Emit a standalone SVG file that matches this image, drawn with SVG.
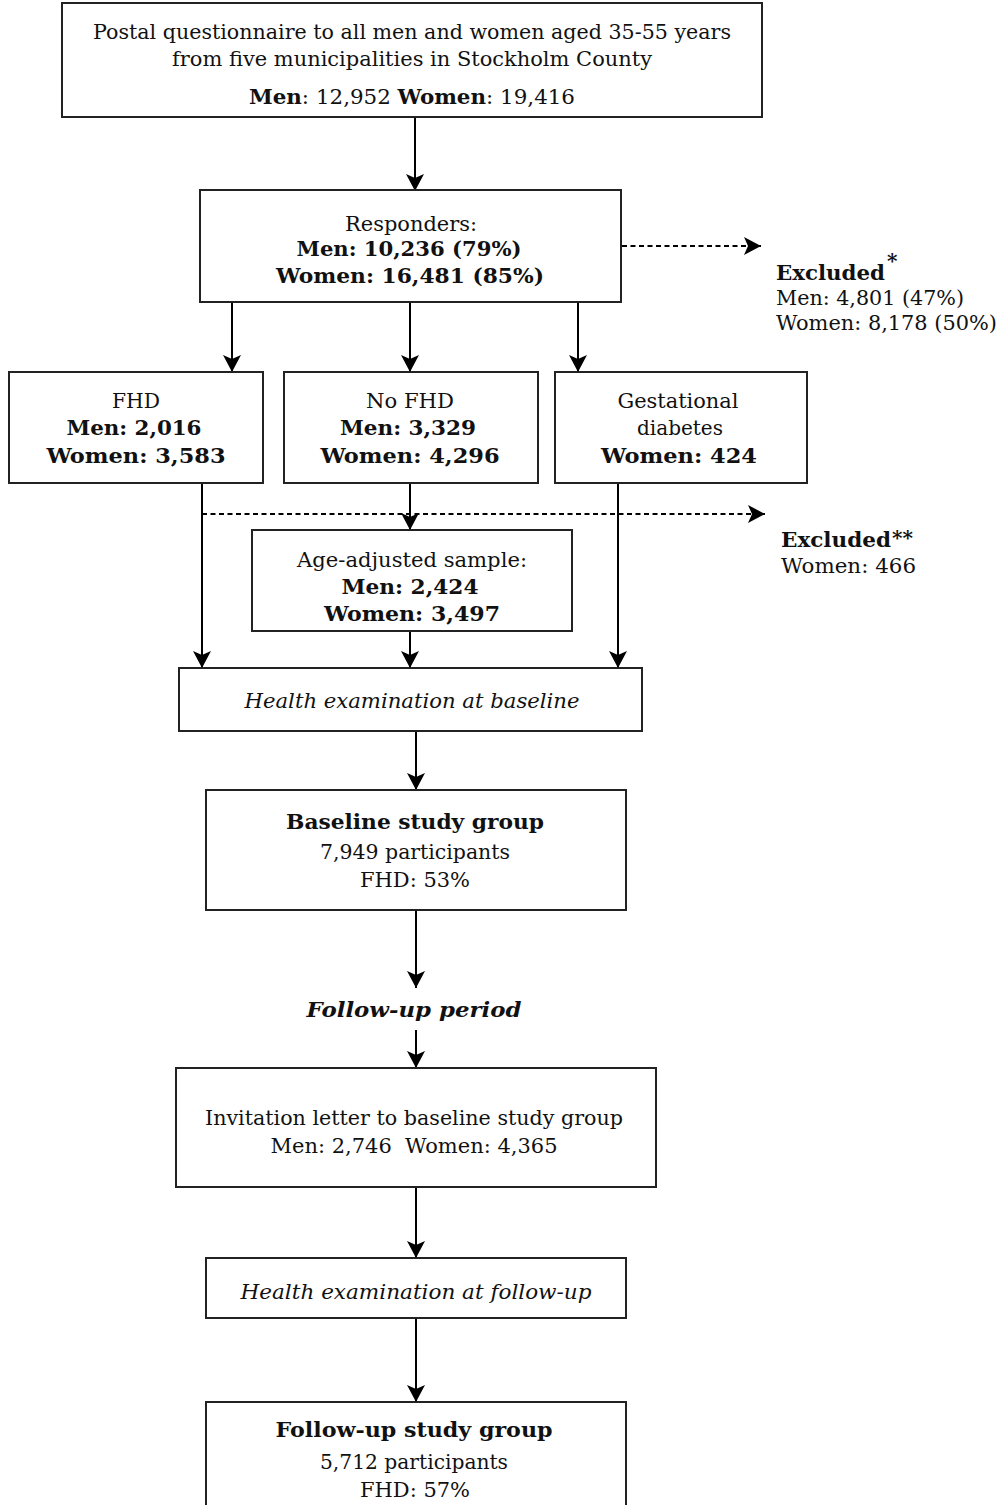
<svg xmlns="http://www.w3.org/2000/svg" width="1002" height="1505" viewBox="0 0 1002 1505">
<defs>
<marker id="ah" viewBox="0 0 17 18" refX="17" refY="9" markerWidth="17" markerHeight="18" markerUnits="userSpaceOnUse" orient="auto">
<path d="M0,0 L17,9 L0,18 L4,9 z" fill="#000"/>
</marker>
<style>
.box{fill:#fff;stroke:#222;stroke-width:2}
.t{font-family:"DejaVu Serif",serif;font-size:20px;fill:#111;text-anchor:middle}
.l{font-family:"DejaVu Serif",serif;font-size:20px;fill:#111}
.g{font-family:"DejaVu Serif",serif;font-size:20px;fill:#111;text-anchor:middle}
.b{font-weight:bold}
.i{font-style:italic}
.c{stroke:#000;stroke-width:2;fill:none;marker-end:url(#ah)}
.d{stroke-dasharray:5,3.5}
</style>
</defs>
<rect width="1002" height="1505" fill="#fff"/>
<g id="connectors">
<line class="c" x1="415" y1="117" x2="415" y2="191"/>
<line class="c d" x1="622" y1="246" x2="761" y2="246"/>
<line class="c" x1="232" y1="302" x2="232" y2="372"/>
<line class="c" x1="410" y1="302" x2="410" y2="372"/>
<line class="c" x1="578" y1="302" x2="578" y2="372"/>
<line class="c d" x1="202" y1="514" x2="765" y2="514"/>
<line class="c" x1="202" y1="483" x2="202" y2="668"/>
<line class="c" x1="410" y1="483" x2="410" y2="530"/>
<line class="c" x1="410" y1="631" x2="410" y2="668"/>
<line class="c" x1="618" y1="483" x2="618" y2="668"/>
<line class="c" x1="416" y1="731" x2="416" y2="790"/>
<line class="c" x1="416" y1="910" x2="416" y2="988"/>
<line class="c" x1="416" y1="1030" x2="416" y2="1068"/>
<line class="c" x1="416" y1="1187" x2="416" y2="1258"/>
<line class="c" x1="416" y1="1318" x2="416" y2="1402"/>
</g>
<g id="questionnaire">
<rect class="box" x="62" y="3" width="700" height="114"/>
<text class="t" x="412" y="39" textLength="638" lengthAdjust="spacingAndGlyphs">Postal questionnaire to all men and women aged 35-55 years</text>
<text class="t" x="412" y="66" textLength="480" lengthAdjust="spacingAndGlyphs">from five municipalities in Stockholm County</text>
<text class="t" x="412" y="104" textLength="326" lengthAdjust="spacingAndGlyphs"><tspan class="b">Men</tspan>: 12,952 <tspan class="b">Women</tspan>: 19,416</text>
</g>
<g id="responders">
<rect class="box" x="200" y="190" width="421" height="112"/>
<text class="t" x="411" y="231" textLength="132" lengthAdjust="spacingAndGlyphs">Responders:</text>
<text class="t b" x="409" y="256" textLength="225" lengthAdjust="spacingAndGlyphs">Men: 10,236 (79%)</text>
<text class="t b" x="410" y="283" textLength="268" lengthAdjust="spacingAndGlyphs">Women: 16,481 (85%)</text>
</g>
<g id="excluded1">
<text class="l b" x="776" y="280" textLength="109" lengthAdjust="spacingAndGlyphs">Excluded</text>
<text class="l b" x="887" y="268" font-size="12">*</text>
<text class="l" x="776" y="305" textLength="188" lengthAdjust="spacingAndGlyphs">Men: 4,801 (47%)</text>
<text class="l" x="776" y="330" textLength="221" lengthAdjust="spacingAndGlyphs">Women: 8,178 (50%)</text>
</g>
<g id="fhd">
<rect class="box" x="9" y="372" width="254" height="111"/>
<text class="t" x="136" y="408" textLength="48" lengthAdjust="spacingAndGlyphs">FHD</text>
<text class="t b" x="134" y="435" textLength="135" lengthAdjust="spacingAndGlyphs">Men: 2,016</text>
<text class="t b" x="136" y="463" textLength="179" lengthAdjust="spacingAndGlyphs">Women: 3,583</text>
</g>
<g id="nofhd">
<rect class="box" x="284" y="372" width="254" height="111"/>
<text class="t" x="410" y="408" textLength="88" lengthAdjust="spacingAndGlyphs">No FHD</text>
<text class="t b" x="408" y="435" textLength="136" lengthAdjust="spacingAndGlyphs">Men: 3,329</text>
<text class="t b" x="410" y="463" textLength="179" lengthAdjust="spacingAndGlyphs">Women: 4,296</text>
</g>
<g id="gestational">
<rect class="box" x="555" y="372" width="252" height="111"/>
<text class="t" x="678" y="408" textLength="121" lengthAdjust="spacingAndGlyphs">Gestational</text>
<text class="t" x="680" y="435" textLength="86" lengthAdjust="spacingAndGlyphs">diabetes</text>
<text class="t b" x="679" y="463" textLength="156" lengthAdjust="spacingAndGlyphs">Women: 424</text>
</g>
<g id="excluded2">
<text class="l b" x="781" y="547" textLength="110" lengthAdjust="spacingAndGlyphs">Excluded</text>
<text class="l b" x="892" y="545" font-size="12">**</text>
<text class="l" x="781" y="573" textLength="135" lengthAdjust="spacingAndGlyphs">Women: 466</text>
</g>
<g id="ageadjusted">
<rect class="box" x="252" y="530" width="320" height="101"/>
<text class="t" x="412" y="567" textLength="230" lengthAdjust="spacingAndGlyphs">Age-adjusted sample:</text>
<text class="t b" x="410" y="594" textLength="137" lengthAdjust="spacingAndGlyphs">Men: 2,424</text>
<text class="t b" x="412" y="621" textLength="176" lengthAdjust="spacingAndGlyphs">Women: 3,497</text>
</g>
<g id="healthbaseline">
<rect class="box" x="179" y="668" width="463" height="63"/>
<text class="g i" x="412" y="708" textLength="335" lengthAdjust="spacingAndGlyphs">Health examination at baseline</text>
</g>
<g id="baselinegroup">
<rect class="box" x="206" y="790" width="420" height="120"/>
<text class="g b" x="415" y="829" textLength="258" lengthAdjust="spacingAndGlyphs">Baseline study group</text>
<text class="g" x="415" y="859" textLength="190" lengthAdjust="spacingAndGlyphs">7,949 participants</text>
<text class="g" x="415" y="887" textLength="110" lengthAdjust="spacingAndGlyphs">FHD: 53%</text>
</g>
<g id="followupperiod">
<text class="g b i" x="414" y="1017" textLength="215" lengthAdjust="spacingAndGlyphs">Follow-up period</text>
</g>
<g id="invitation">
<rect class="box" x="176" y="1068" width="480" height="119"/>
<text class="g" x="414" y="1125" textLength="418" lengthAdjust="spacingAndGlyphs">Invitation letter to baseline study group</text>
<text class="g" x="414" y="1153" textLength="287" lengthAdjust="spacingAndGlyphs" xml:space="preserve">Men: 2,746  Women: 4,365</text>
</g>
<g id="healthfollowup">
<rect class="box" x="206" y="1258" width="420" height="60"/>
<text class="g i" x="416" y="1299" textLength="351" lengthAdjust="spacingAndGlyphs">Health examination at follow-up</text>
</g>
<g id="followupgroup">
<rect class="box" x="206" y="1402" width="420" height="110"/>
<text class="g b" x="414" y="1437" textLength="277" lengthAdjust="spacingAndGlyphs">Follow-up study group</text>
<text class="g" x="414" y="1469" textLength="188" lengthAdjust="spacingAndGlyphs">5,712 participants</text>
<text class="g" x="415" y="1497" textLength="110" lengthAdjust="spacingAndGlyphs">FHD: 57%</text>
</g>
</svg>
